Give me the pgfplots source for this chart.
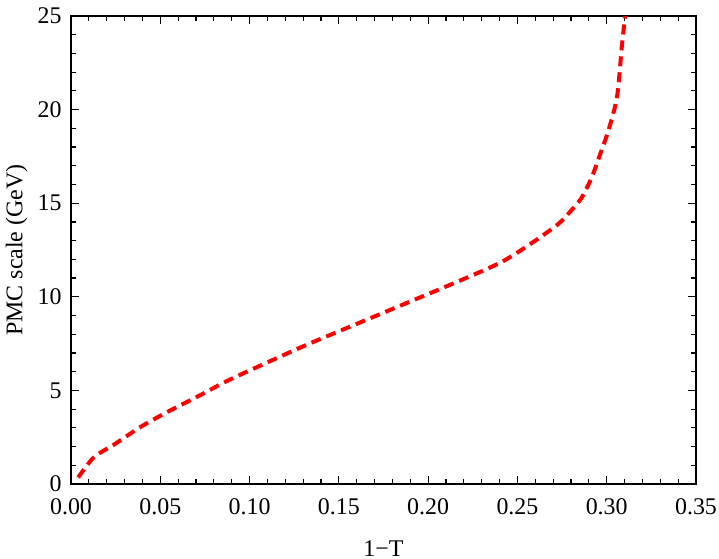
\documentclass[border=0pt]{standalone}
\usepackage{fontspec}
\setmainfont{Liberation Serif}
\usepackage{pgfplots}
\pgfplotsset{compat=1.18}

\begin{document}
\fontsize{12}{14}\selectfont
\begin{tikzpicture}
\begin{axis}[
    name=ax,
    width=312.5bp, height=234bp,
    scale only axis,
    xmin=0, xmax=0.35,
    ymin=0, ymax=25,
    xtick={0,0.05,...,0.35},
    ytick={0,5,...,25},
    minor x tick num=4,
    minor y tick num=4,
    tick align=inside,
    major tick length=4bp,
    minor tick length=2.5bp,
    axis line style={line width=0.8pt},
    every tick/.style={black, line width=0.6pt},
    xticklabel style={yshift=-3bp, /pgf/number format/.cd, fixed, fixed zerofill, precision=2},
    yticklabel style={xshift=-0.5bp},
    /pgf/number format/assume math mode=true,
    xlabel={1−T},
    ylabel={PMC scale (GeV)},
    xlabel style={at={(axis description cs:0.5,-0.138)}, anchor=center},
    ylabel style={at={(axis description cs:-0.087,0.5)}, anchor=center},
    scaled x ticks=false,
]
\addplot[red, line width=2bp, dash pattern=on 5bp off 3bp, smooth, tension=0.5] coordinates {
    (0.004, 0.35) (0.0115, 1.3) (0.016, 1.65) (0.024, 2.1) (0.039, 3.05)
    (0.054, 3.85) (0.0725, 4.75) (0.0895, 5.6) (0.1287, 7.3) (0.1456, 7.98)
    (0.185, 9.55) (0.2187, 10.9) (0.2411, 11.86) (0.258, 12.87) (0.273, 13.9)
    (0.28, 14.6) (0.286, 15.3) (0.2917, 16.4) (0.297, 17.8) (0.301, 18.9)
    (0.3058, 20.7) (0.3086, 23.5) (0.3115, 26)
};
\end{axis}
\pgfresetboundingbox
\path ([shift={(-35.5bp,-37.5bp)}]ax.south west) rectangle ([shift={(11.5bp,8bp)}]ax.north east);
\end{tikzpicture}
\end{document}
